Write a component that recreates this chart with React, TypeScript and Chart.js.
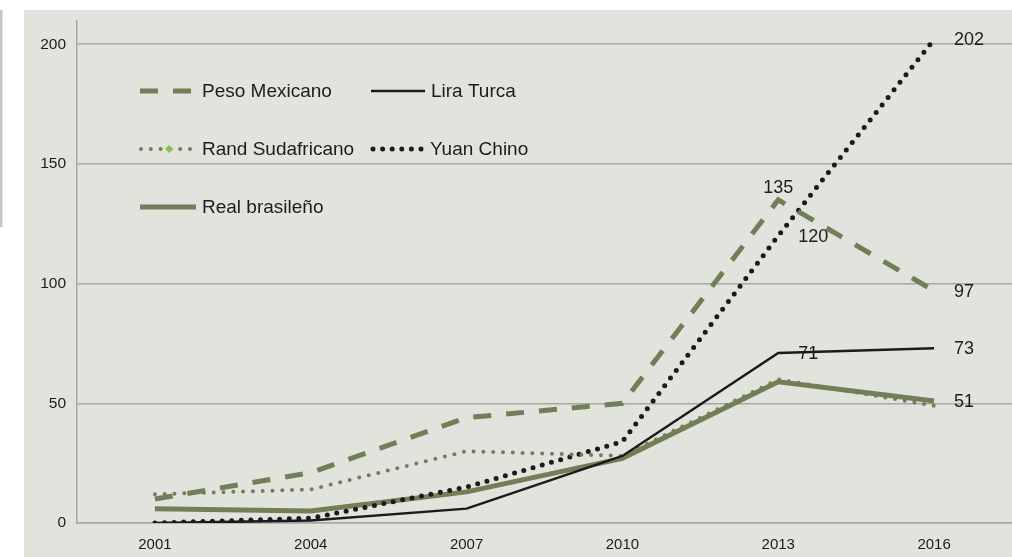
import React, { useEffect, useRef } from "react";
import { Chart, registerables } from "chart.js";

Chart.register(...registerables);

// ---- data ----
const years = ["2001", "2004", "2007", "2010", "2013", "2016"];
const pesoMexicano = [10, 21, 44, 50, 135, 97];
const liraTurca = [0, 1, 6, 28, 71, 73];
const randSudafricano = [12, 14, 30, 28, 60, 49];
const yuanChino = [0, 2, 15, 34, 120, 202];
const realBrasileno = [6, 5, 13, 27, 59, 51];
const yTickValues = [0, 50, 100, 150, 200];
const seriesNames = ["Peso Mexicano", "Lira Turca", "Rand Sudafricano", "Yuan Chino", "Real brasileño"];

// value labels: [dataset index, point index, placement]
const valueLabels: [number, number, string][] = [
  [3, 5, "right"],
  [0, 5, "right"],
  [1, 5, "right"],
  [4, 5, "right"],
  [0, 4, "above"],
  [3, 4, "right"],
  [1, 4, "right"],
];

const OLIVE = "#737d58";
const BLACK = "#1b1b1b";
const GRID = "#a6a8a3";
const TEXT = "#1e1b1c";
const PANEL = "#e1e3dd";
const FONT = "'Liberation Sans', Arial, Helvetica, sans-serif";

const backgroundPlugin = {
  id: "bgPanel",
  beforeDraw(chart: any) {
    const { ctx, width, height } = chart;
    ctx.save();
    ctx.fillStyle = "#ffffff";
    ctx.fillRect(0, 0, width, height);
    ctx.fillStyle = PANEL;
    ctx.fillRect(24, 10, width - 24, height - 10);
    ctx.fillStyle = "#c5c7c0";
    ctx.fillRect(0, 10, 2.5, 217);
    ctx.restore();
  },
};

const labelPlugin = {
  id: "valueLabels",
  afterDatasetsDraw(chart: any) {
    const { ctx } = chart;
    const xs = chart.scales.x;
    const ys = chart.scales.y;
    ctx.save();
    ctx.font = `18px ${FONT}`;
    ctx.fillStyle = TEXT;
    ctx.textBaseline = "middle";
    for (const [di, pi, place] of valueLabels) {
      const v = chart.data.datasets[di].data[pi] as number;
      const px = xs.getPixelForValue(pi);
      const py = ys.getPixelForValue(v);
      const txt = String(v);
      if (place === "above") {
        ctx.textAlign = "center";
        ctx.fillText(txt, px, py - 12);
      } else {
        ctx.textAlign = "left";
        ctx.fillText(txt, px + 20, py + 1);
      }
    }
    ctx.restore();
  },
};

const legendPlugin = {
  id: "customLegend",
  afterDraw(chart: any) {
    const { ctx } = chart;
    ctx.save();
    ctx.font = `19px ${FONT}`;
    ctx.fillStyle = TEXT;
    ctx.textBaseline = "middle";
    ctx.textAlign = "left";

    const line = (x1: number, x2: number, y: number, color: string, w: number, dash: number[], cap: CanvasLineCap) => {
      ctx.beginPath();
      ctx.strokeStyle = color;
      ctx.lineWidth = w;
      ctx.lineCap = cap;
      ctx.setLineDash(dash);
      ctx.moveTo(x1, y);
      ctx.lineTo(x2, y);
      ctx.stroke();
    };

    // row 1
    line(140, 192, 91, OLIVE, 5, [18, 15], "butt");
    ctx.fillText(seriesNames[0], 202, 92);
    line(371, 425, 91, BLACK, 2.5, [], "butt");
    ctx.fillText(seriesNames[1], 431, 92);
    // row 2
    line(141, 193, 149, OLIVE, 4, [0, 9.8], "round");
    ctx.setLineDash([]);
    ctx.beginPath();
    ctx.fillStyle = "#8cbd52";
    ctx.moveTo(169, 145);
    ctx.lineTo(173, 149);
    ctx.lineTo(169, 153);
    ctx.lineTo(165, 149);
    ctx.closePath();
    ctx.fill();
    ctx.fillStyle = TEXT;
    ctx.fillText(seriesNames[2], 202, 150);
    line(373, 424, 149, BLACK, 5, [0, 9.6], "round");
    ctx.fillText(seriesNames[3], 430, 150);
    // row 3
    line(140, 196, 207, OLIVE, 5, [], "butt");
    ctx.fillText(seriesNames[4], 202, 208);
    ctx.restore();
  },
};

export default function App() {
  const ref = useRef<HTMLCanvasElement | null>(null);

  useEffect(() => {
    if (!ref.current) return;
    const chart = new Chart(ref.current, {
      type: "line",
      data: {
        labels: years,
        datasets: [
          {
            label: seriesNames[0],
            data: pesoMexicano,
            borderColor: OLIVE,
            borderWidth: 5,
            borderDash: [18, 15],
            pointRadius: 0,
            tension: 0,
            fill: false,
          },
          {
            label: seriesNames[1],
            data: liraTurca,
            borderColor: BLACK,
            borderWidth: 2.5,
            pointRadius: 0,
            tension: 0,
            fill: false,
          },
          {
            label: seriesNames[2],
            data: randSudafricano,
            borderColor: OLIVE,
            borderWidth: 4,
            borderDash: [0, 9.8],
            borderCapStyle: "round",
            pointRadius: 0,
            tension: 0,
            fill: false,
          },
          {
            label: seriesNames[3],
            data: yuanChino,
            borderColor: BLACK,
            borderWidth: 5,
            borderDash: [0, 9.6],
            borderCapStyle: "round",
            pointRadius: 0,
            tension: 0,
            fill: false,
          },
          {
            label: seriesNames[4],
            data: realBrasileno,
            borderColor: OLIVE,
            borderWidth: 5,
            pointRadius: 0,
            tension: 0,
            fill: false,
          },
        ],
      },
      options: {
        responsive: false,
        animation: false,
        devicePixelRatio: 1,
        layout: { padding: { top: 19, left: 0, right: 0, bottom: 0 } },
        plugins: {
          legend: { display: false },
          tooltip: { enabled: false },
          title: { display: false },
        },
        scales: {
          x: {
            offset: true,
            grid: { display: false, drawTicks: false },
            border: { display: true, color: GRID, width: 1.5 },
            ticks: {
              color: TEXT,
              font: { family: FONT, size: 15 },
              padding: 13,
              maxRotation: 0,
              autoSkip: false,
            },
            afterFit(scale: any) {
              scale.height = 34;
            },
          },
          y: {
            min: 0,
            max: 210,
            grid: { color: GRID, lineWidth: 1.5, drawTicks: false },
            border: { display: true, color: GRID, width: 1.5 },
            ticks: {
              color: TEXT,
              font: { family: FONT, size: 15.5 },
              padding: 11,
            },
            afterBuildTicks(scale: any) {
              scale.ticks = yTickValues.map((v) => ({ value: v }));
            },
            afterFit(scale: any) {
              scale.width = 77;
            },
          },
        },
      },
      plugins: [backgroundPlugin, labelPlugin, legendPlugin],
    });
    return () => chart.destroy();
  }, []);

  return (
    <div style={{ position: "fixed", left: 0, top: 0, width: 1012, height: 557, background: "#fff" }}>
      <canvas ref={ref} width={1012} height={557} style={{ display: "block", width: 1012, height: 557 }} />
    </div>
  );
}
